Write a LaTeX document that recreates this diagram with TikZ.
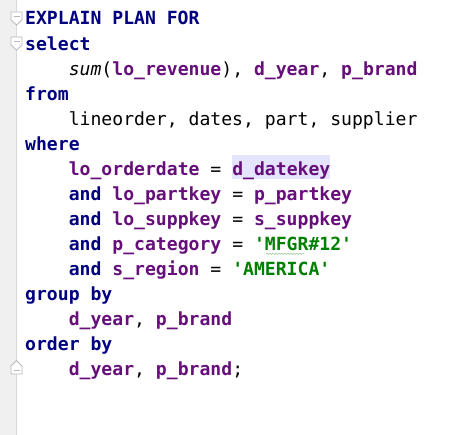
\documentclass[tikz,border=0pt]{standalone}
\usepackage{fontspec}
\usepackage{xcolor}
\usepackage{tikz}
\usetikzlibrary{positioning,decorations.pathmorphing}

\newfontfamily\codefont{DejaVu Sans Mono}
\definecolor{kwblue}{HTML}{000080}
\definecolor{idpurple}{HTML}{660E7A}
\definecolor{strgreen}{HTML}{008000}
\definecolor{gutterbg}{HTML}{F0F0F0}
\definecolor{gutterline}{HTML}{DADADA}
\definecolor{foldgray}{HTML}{B8B8B8}
\definecolor{markhl}{HTML}{E4E4FF}
\definecolor{spellgreen}{HTML}{A8CCA8}
\newcommand{\kw}[1]{\textcolor{kwblue}{\bfseries #1}}
\newcommand{\ident}[1]{\textcolor{idpurple}{\bfseries #1}}
\newcommand{\strlit}[1]{\textcolor{strgreen}{\bfseries #1}}

\tikzset{
    codeline/.style={anchor=base west, inner sep=0pt, font=\codefont\fontsize{18.1}{20}\selectfont},
    foldmark/.style={draw=foldgray, fill=white, line width=0.8pt}
}

\begin{document}
\begin{tikzpicture}[x=1pt, y=-1pt]
    % Background and gutter
    \fill [white] (0,0) rectangle (467,435);
    \useasboundingbox (0,0) rectangle (467,435);
    \fill [gutterbg] (0,0) rectangle (16,435);
    \draw [gutterline, line width=1pt] (16.5,0) -- (16.5,435);

    % Fold markers
    \foreach \dy in {0,25} {
        \draw [foldmark] (11,12+\dy) -- (22,12+\dy) -- (22,20+\dy) -- (16.5,25+\dy) -- (11,20+\dy) -- cycle;
        \draw [foldgray, line width=0.8pt] (13.5,16.5+\dy) -- (19.5,16.5+\dy);
    }
    \draw [foldmark] (11,374) -- (22,374) -- (22,366) -- (16.5,360.5) -- (11,366) -- cycle;
    \draw [foldgray, line width=0.8pt] (13.5,370) -- (19.5,370);

    % Code lines
    \node [codeline] (explain) at (25,25) {\kw{EXPLAIN PLAN FOR}};
    \node [codeline] (select) at (25,50.1) {\kw{select}};
    \node [codeline] (sumline) at (68.6,75.1) {{\itshape sum}(\ident{lo\_revenue}), \ident{d\_year}, \ident{p\_brand}};
    \node [codeline] (from) at (25,100.2) {\kw{from}};
    \node [codeline] (tables) at (68.6,125.3) {lineorder, dates, part, supplier};
    \node [codeline] (where) at (25,150.4) {\kw{where}};
    \node [codeline] (orderdate) at (68.6,175.4) {\ident{lo\_orderdate} =};
    \node [codeline, fill=markhl, text height=20.4pt, text depth=3.6pt] (datekey) at (232.1,175.4) {\ident{d\_datekey}};
    \node [codeline] (partkey) at (68.6,200.5) {\kw{and} \ident{lo\_partkey} = \ident{p\_partkey}};
    \node [codeline] (suppkey) at (68.6,225.6) {\kw{and} \ident{lo\_suppkey} = \ident{s\_suppkey}};
    \node [codeline] (category) at (68.6,250.6) {\kw{and} \ident{p\_category} = \strlit{\textquotesingle MFGR\#12\textquotesingle}};
    \node [codeline] (region) at (68.6,275.7) {\kw{and} \ident{s\_region} = \strlit{\textquotesingle AMERICA\textquotesingle}};
    \node [codeline] (groupby) at (25,300.8) {\kw{group by}};
    \node [codeline] (groupcols) at (68.6,325.9) {\ident{d\_year}, \ident{p\_brand}};
    \node [codeline] (orderby) at (25,350.9) {\kw{order by}};
    \node [codeline] (ordercols) at (68.6,376) {\ident{d\_year}, \ident{p\_brand};};

    % Spell check squiggle
    \draw [spellgreen, line width=0.6pt, decorate, decoration={snake, amplitude=0.8pt, segment length=3pt}] (266,253.8) -- (304,253.8);
\end{tikzpicture}
\end{document}
